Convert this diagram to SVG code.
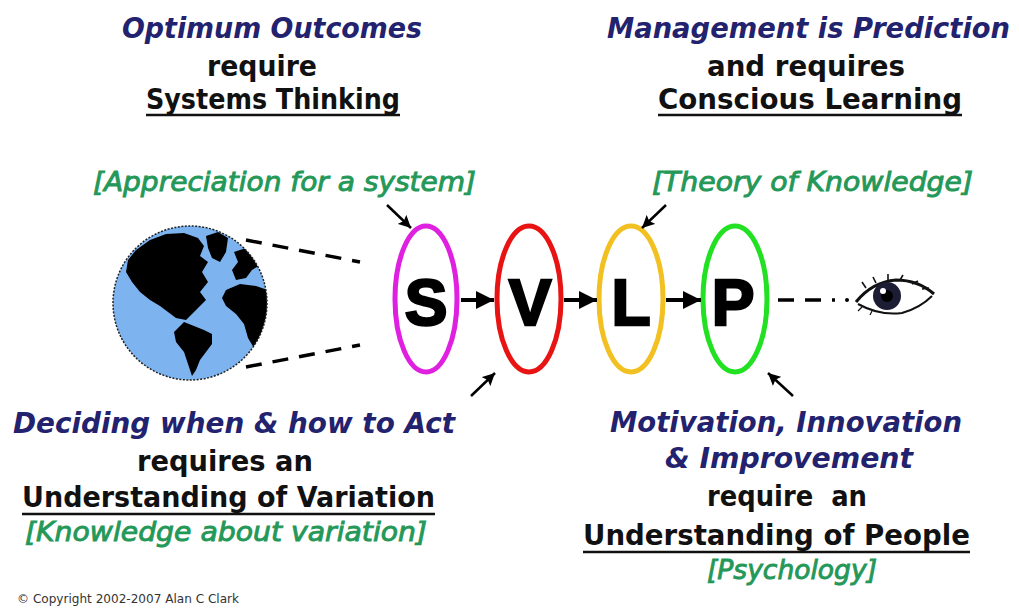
<svg xmlns="http://www.w3.org/2000/svg" width="1019" height="610" viewBox="0 0 1019 610">
  <style>
    .head { font-family: "DejaVu Sans", Verdana, sans-serif; font-weight: bold; font-style: italic; font-size: 28px; fill: #22226e; }
    .body { font-family: "DejaVu Sans", Verdana, sans-serif; font-weight: bold; font-size: 28px; fill: #111; }
    .note { font-family: "DejaVu Sans", Verdana, sans-serif; font-style: italic; font-size: 26px; fill: #249858; stroke: #249858; stroke-width: 0.9; }
    .letter { font-family: "Liberation Sans", Arial, sans-serif; font-weight: bold; font-size: 64px; fill: #000; stroke: #000; stroke-width: 2.5; text-anchor: middle; }
    .ring { fill: none; stroke-width: 5; }
    .uline { stroke: #111; stroke-width: 2.5; }
    .flow { stroke: #000; stroke-width: 4; fill: none; }
    .pointer { stroke: #000; stroke-width: 2.5; fill: none; }
    .dash { stroke: #000; stroke-width: 3.5; stroke-dasharray: 16 11; fill: none; }
    .small { font-family: "DejaVu Sans", Tahoma, sans-serif; font-size: 12px; fill: #333; }
  </style>
  <defs>
    <marker id="flowHead" viewBox="0 0 10 10" refX="10" refY="5" markerWidth="4.5" markerHeight="5" orient="auto" markerUnits="strokeWidth">
      <path d="M0,0 L10,5 L0,10 Z" fill="#000"/>
    </marker>
    <marker id="ptrHead" viewBox="0 0 10 10" refX="10" refY="5" markerWidth="5" markerHeight="5" orient="auto" markerUnits="strokeWidth">
      <path d="M0,0 L10,5 L0,10 L2,5 Z" fill="#000"/>
    </marker>
    <clipPath id="globeClip">
      <circle cx="190" cy="303" r="77"/>
    </clipPath>
  </defs>

  <rect width="1019" height="610" fill="#fff"/>

  <!-- top-left caption -->
  <g id="caption-systems">
    <text class="head" x="122" y="38" textLength="300" lengthAdjust="spacingAndGlyphs">Optimum Outcomes</text>
    <text class="body" x="207" y="76" textLength="110" lengthAdjust="spacingAndGlyphs">require</text>
    <text class="body" x="146" y="109" textLength="254" lengthAdjust="spacingAndGlyphs">Systems Thinking</text>
    <line class="uline" x1="146" y1="115" x2="400" y2="115"/>
    <text class="note" x="93" y="191" textLength="383" lengthAdjust="spacingAndGlyphs">[Appreciation for a system]</text>
  </g>

  <!-- top-right caption -->
  <g id="caption-learning">
    <text class="head" x="607" y="38" textLength="403" lengthAdjust="spacingAndGlyphs">Management is Prediction</text>
    <text class="body" x="707" y="76" textLength="198" lengthAdjust="spacingAndGlyphs">and requires</text>
    <text class="body" x="658" y="109" textLength="304" lengthAdjust="spacingAndGlyphs">Conscious Learning</text>
    <line class="uline" x1="658" y1="115" x2="962" y2="115"/>
    <text class="note" x="652" y="191" textLength="321" lengthAdjust="spacingAndGlyphs">[Theory of Knowledge]</text>
  </g>

  <!-- bottom-left caption -->
  <g id="caption-variation">
    <text class="head" x="13" y="433" textLength="442" lengthAdjust="spacingAndGlyphs">Deciding when &amp; how to Act</text>
    <text class="body" x="137" y="471" textLength="176" lengthAdjust="spacingAndGlyphs">requires an</text>
    <text class="body" x="22" y="507" textLength="413" lengthAdjust="spacingAndGlyphs">Understanding of Variation</text>
    <line class="uline" x1="22" y1="514" x2="435" y2="514"/>
    <text class="note" x="25" y="541" textLength="402" lengthAdjust="spacingAndGlyphs">[Knowledge about variation]</text>
  </g>

  <!-- bottom-right caption -->
  <g id="caption-people">
    <text class="head" x="610" y="432" textLength="352" lengthAdjust="spacingAndGlyphs">Motivation, Innovation</text>
    <text class="head" x="665" y="468" textLength="248" lengthAdjust="spacingAndGlyphs">&amp; Improvement</text>
    <text class="body" x="707" y="506" textLength="160" lengthAdjust="spacingAndGlyphs" xml:space="preserve">require  an</text>
    <text class="body" x="583" y="545" textLength="387" lengthAdjust="spacingAndGlyphs">Understanding of People</text>
    <line class="uline" x1="583" y1="552" x2="970" y2="552"/>
    <text class="note" x="707" y="579" textLength="170" lengthAdjust="spacingAndGlyphs">[Psychology]</text>
  </g>

  <!-- the world -->
  <g id="globe">
    <circle cx="190" cy="303" r="77" fill="#7db4f0"/>
    <g clip-path="url(#globeClip)" fill="#000">
      <!-- North America -->
      <path d="M136,250 L150,240 L166,234 L184,233 L198,238 L204,246 L200,256 L208,262 L202,272 L208,282 L200,292 L206,300 L198,308 L192,314 L186,320 L176,318 L168,312 L160,306 L150,300 L140,292 L132,282 L126,272 L128,260 Z"/>
      <!-- Greenland -->
      <path d="M206,236 L218,232 L228,238 L226,252 L220,262 L212,258 L208,248 Z"/>
      <!-- Central and South America -->
      <path d="M184,322 L194,326 L204,330 L212,334 L212,344 L206,352 L200,360 L196,370 L192,376 L188,364 L184,352 L176,342 L174,332 Z"/>
      <!-- Europe -->
      <path d="M234,252 L246,248 L256,254 L262,264 L252,270 L246,278 L236,280 L232,270 L238,262 Z"/>
      <!-- Africa -->
      <path d="M226,290 L240,284 L256,286 L268,290 L268,330 L262,344 L254,348 L248,338 L244,324 L236,314 L226,306 L222,298 Z"/>
    </g>
    <circle cx="190" cy="303" r="77" fill="none" stroke="#222" stroke-width="1.5" stroke-dasharray="2 1.5"/>
  </g>

  <!-- letter nodes -->
  <g id="node-s">
    <ellipse class="ring" cx="426" cy="299" rx="31" ry="73" stroke="#e020e0"/>
    <text class="letter" x="426" y="325">S</text>
  </g>
  <g id="node-v">
    <ellipse class="ring" cx="529" cy="299" rx="32" ry="73" stroke="#e81414"/>
    <text class="letter" x="530" y="325">V</text>
  </g>
  <g id="node-l">
    <ellipse class="ring" cx="631" cy="299" rx="32" ry="73" stroke="#f2c020"/>
    <text class="letter" x="631" y="325">L</text>
  </g>
  <g id="node-p">
    <ellipse class="ring" cx="735" cy="299" rx="32" ry="73" stroke="#22e022"/>
    <text class="letter" x="733" y="325">P</text>
  </g>

  <!-- the eye -->
  <g id="eye">
    <path d="M856,302 Q872,282 896,280 Q918,280 934,294" fill="none" stroke="#111" stroke-width="3"/>
    <path d="M858,304 Q880,316 902,313 Q920,308 932,296" fill="none" stroke="#111" stroke-width="2"/>
    <circle cx="887" cy="296" r="14" fill="#1c1c34"/>
    <circle cx="887" cy="296" r="6" fill="#000"/>
    <circle cx="883" cy="291" r="3" fill="#fff"/>
    <path d="M866,288 L862,282 M876,283 L873,277 M888,280 L888,274 M900,280 L903,275 M912,284 L918,281 M922,289 L929,288" stroke="#111" stroke-width="1.6" fill="none"/>
    <path d="M862,307 L858,311 M872,311 L870,315" stroke="#111" stroke-width="1.2" fill="none"/>
  </g>

  <!-- connectors -->
  <g id="connectors">
    <line class="dash" x1="246" y1="240" x2="360" y2="262"/>
    <line class="dash" x1="246" y1="367" x2="360" y2="345"/>
    <line class="flow" x1="461" y1="300" x2="494" y2="300" marker-end="url(#flowHead)"/>
    <line class="flow" x1="564" y1="300" x2="597" y2="300" marker-end="url(#flowHead)"/>
    <line class="flow" x1="666" y1="300" x2="701" y2="300" marker-end="url(#flowHead)"/>
    <line class="dash" x1="778" y1="300" x2="835" y2="300"/>
    <circle cx="847" cy="300" r="2" fill="#000"/>
    <line class="pointer" x1="387" y1="205" x2="411" y2="228" marker-end="url(#ptrHead)"/>
    <line class="pointer" x1="666" y1="205" x2="642" y2="228" marker-end="url(#ptrHead)"/>
    <line class="pointer" x1="471" y1="396" x2="495" y2="373" marker-end="url(#ptrHead)"/>
    <line class="pointer" x1="793" y1="396" x2="768" y2="373" marker-end="url(#ptrHead)"/>
  </g>

  <text class="small" x="17" y="603" textLength="222" lengthAdjust="spacingAndGlyphs">© Copyright 2002-2007 Alan C Clark</text>
</svg>
